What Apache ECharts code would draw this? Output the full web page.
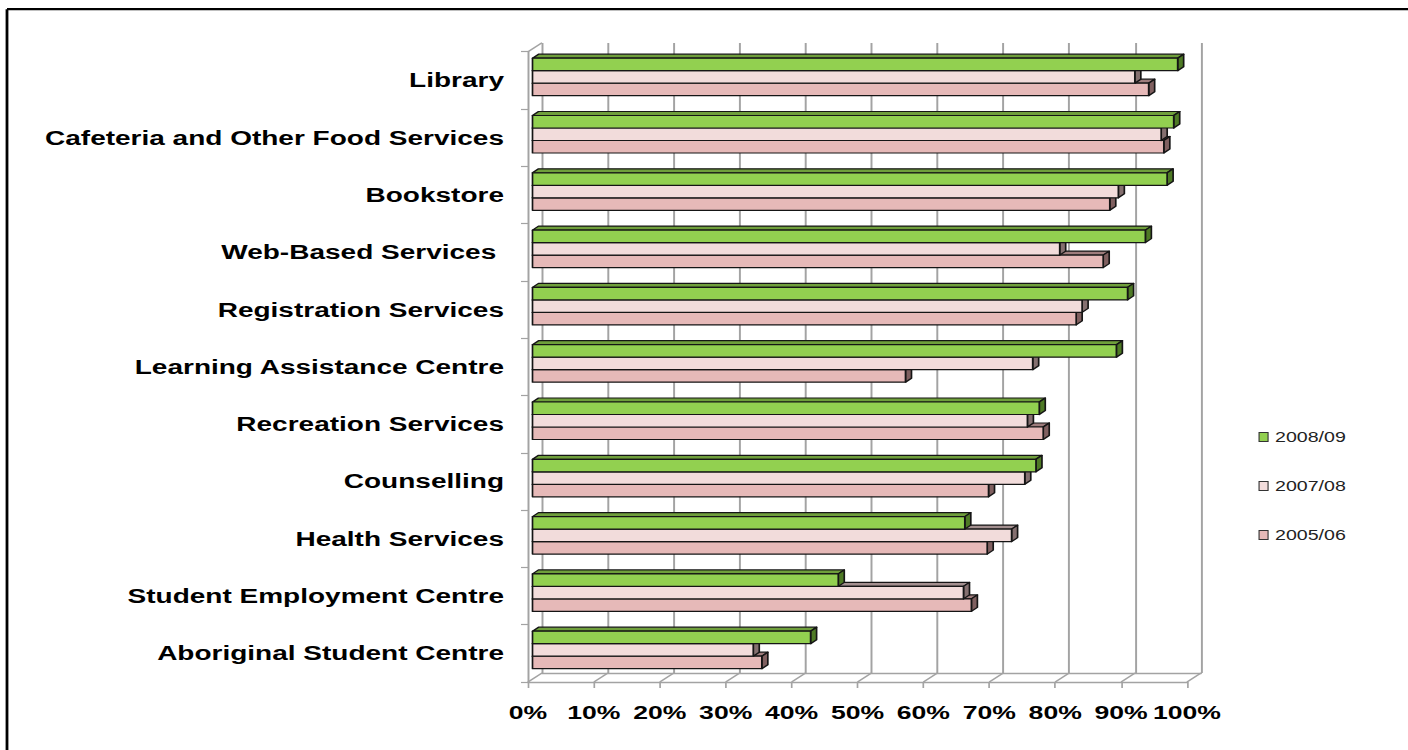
<!DOCTYPE html>
<html><head><meta charset="utf-8">
<script src="https://cdn.jsdelivr.net/npm/echarts@6/dist/echarts.min.js"></script>
<style>
html,body{margin:0;padding:0;background:#fff;overflow:hidden;}
#chart{width:1005.714px;height:750px;transform:scaleX(1.4);transform-origin:0 0;}
</style></head><body>
<div id="chart"></div>
<script>
const categories = ['Library','Cafeteria and Other Food Services','Bookstore','Web-Based Services ','Registration Services','Learning Assistance Centre','Recreation Services','Counselling','Health Services','Student Employment Centre','Aboriginal Student Centre'];
const seriesNames = ['2008/09','2007/08','2005/06'];
const values0809 = [97.9, 97.3, 96.3, 93.0, 90.3, 88.6, 76.9, 76.4, 65.6, 46.4, 42.2];
const values0708 = [91.4, 95.4, 88.9, 80.0, 83.4, 75.9, 75.1, 74.7, 72.7, 65.4, 33.5];
const values0506 = [93.5, 95.8, 87.6, 86.6, 82.5, 56.6, 77.5, 69.2, 69.0, 66.6, 34.8];
const percentTicks = [0, 10, 20, 30, 40, 50, 60, 70, 80, 90, 100];

// the reference is horizontally stretched by 1.4; the container is scaled by CSS
const SX = 1.4;
const X = v => v / SX;
const FONT = "'Liberation Sans', Arial, Helvetica, sans-serif";
const GRID_COLOR = '#a3a3a3';
const WALL_DEPTH = [X(14), -9];
const BAR_DEPTH = [X(6), -4];
const BAR_FRACTION = 0.218;

const palette = {
  '2008/09': {front: '#92d050', top: '#6f9f3b', side: '#4e7a25'},
  '2007/08': {front: '#f2dcdb', top: '#a38f8f', side: '#857070'},
  '2005/06': {front: '#e6b9b8', top: '#9e7c7c', side: '#806060'}
};

function barRenderer(slot, name) {
  return function (params, api) {
    const v = api.value(0), c = api.value(1);
    const p0 = api.coord([0, c]);
    const p1 = api.coord([v, c]);
    const band = api.size([0, 1])[1];
    const h = band * BAR_FRACTION;
    const y = p0[1] - 1.5 * h + slot * h;
    const x0 = p0[0], x1 = p1[0];
    const dx = BAR_DEPTH[0], dy = BAR_DEPTH[1];
    const col = palette[name];
    const st = (fill) => ({fill: fill, stroke: '#151515', lineWidth: 1.2, lineJoin: 'round'});
    return {type: 'group', children: [
      {type: 'polygon', shape: {points: [[x0, y], [x1, y], [x1 + dx, y + dy], [x0 + dx, y + dy]]}, style: st(col.top)},
      {type: 'polygon', shape: {points: [[x1, y], [x1 + dx, y + dy], [x1 + dx, y + h + dy], [x1, y + h]]}, style: st(col.side)},
      {type: 'rect', shape: {x: x0, y: y, width: x1 - x0, height: h}, style: st(col.front)}
    ]};
  };
}

function floorRenderer(params, api) {
  const v = api.value(0);
  const p = api.coord([v, 0]);
  const cs = params.coordSys;
  const yb = cs.y + cs.height;
  const ls = {stroke: GRID_COLOR, lineWidth: 1.3};
  const children = [{type: 'line', shape: {x1: p[0], y1: yb, x2: p[0] + WALL_DEPTH[0], y2: yb + WALL_DEPTH[1]}, style: ls}];
  if (v === 0) {
    children.push({type: 'line', shape: {x1: p[0], y1: cs.y, x2: p[0] + WALL_DEPTH[0], y2: cs.y + WALL_DEPTH[1]}, style: ls});
  }
  return {type: 'group', children: children};
}

const dataFor = arr => arr.map((v, i) => [v, i]);
const seriesValues = {'2008/09': values0809, '2007/08': values0708, '2005/06': values0506};

const chart = echarts.init(document.getElementById('chart'), null, {renderer: 'svg'});

const barSeries = [2, 1, 0].map(slot => {
  const name = seriesNames[slot];
  return {
    type: 'custom', name: name, xAxisIndex: 1, yAxisIndex: 1,
    itemStyle: {color: palette[name].front},
    encode: {x: 0, y: 1},
    data: dataFor(seriesValues[name]),
    renderItem: barRenderer(slot, name),
    clip: false
  };
});

chart.setOption({
  animation: false,
  backgroundColor: '#fff',
  graphic: [
    {type: 'line', silent: true, z: 100, shape: {x1: X(7), y1: 9.2, x2: 1100, y2: 9.2}, style: {stroke: '#000', lineWidth: 2.3}},
    {type: 'line', silent: true, z: 100, shape: {x1: X(7), y1: 9.2, x2: X(7), y2: 800}, style: {stroke: '#000', lineWidth: 2}}
  ],
  legend: {
    data: seriesNames, orient: 'vertical', left: X(1251.5), top: 422,
    icon: 'rect', itemWidth: X(9), itemHeight: 9, itemGap: 29,
    itemStyle: {borderColor: '#333', borderWidth: 0.8},
    textStyle: {fontFamily: FONT, fontSize: 14, color: '#222', lineHeight: 16, padding: [4, 0, 0, 0]}
  },
  grid: [
    {left: X(542), top: 43, width: X(659), height: 630},           // back wall
    {left: X(532.5), top: 48.3, width: X(659), height: 630.3},     // bars
    {left: X(528), top: 51.7, width: X(659), height: 630.3}        // front plane
  ],
  xAxis: [
    {gridIndex: 0, type: 'value', min: 0, max: 100, interval: 10,
      axisLine: {show: true, lineStyle: {color: GRID_COLOR, width: 1.3}}, axisTick: {show: false}, axisLabel: {show: false},
      splitLine: {show: true, lineStyle: {color: GRID_COLOR, width: 1.4}}},
    {gridIndex: 1, type: 'value', min: 0, max: 100, interval: 10, show: false, splitLine: {show: false}},
    {gridIndex: 2, type: 'value', min: 0, max: 100, interval: 10,
      axisLine: {show: true, lineStyle: {color: GRID_COLOR, width: 1.3}},
      axisTick: {show: true, length: 6, lineStyle: {color: GRID_COLOR, width: 1.2}},
      splitLine: {show: false},
      axisLabel: {formatter: '{value}%', margin: 21, fontFamily: FONT, fontWeight: 'bold', fontSize: 19, color: '#000'}}
  ],
  yAxis: [
    {gridIndex: 0, type: 'category', data: categories, inverse: true, show: false},
    {gridIndex: 1, type: 'category', data: categories, inverse: true, show: false},
    {gridIndex: 2, type: 'category', data: categories, inverse: true,
      axisLine: {show: true, lineStyle: {color: GRID_COLOR, width: 1.4}},
      axisTick: {show: true, length: X(7), lineStyle: {color: GRID_COLOR, width: 1.2}},
      splitLine: {show: false},
      axisLabel: {margin: X(24), fontFamily: FONT, fontWeight: 'bold', fontSize: 20, color: '#000'}}
  ],
  series: [
    {type: 'custom', name: 'floor', xAxisIndex: 2, yAxisIndex: 2, silent: true, clip: false,
      encode: {x: 0, y: 1}, data: percentTicks.map(v => [v, 0]), renderItem: floorRenderer}
  ].concat(barSeries)
});
</script>
</body></html>
